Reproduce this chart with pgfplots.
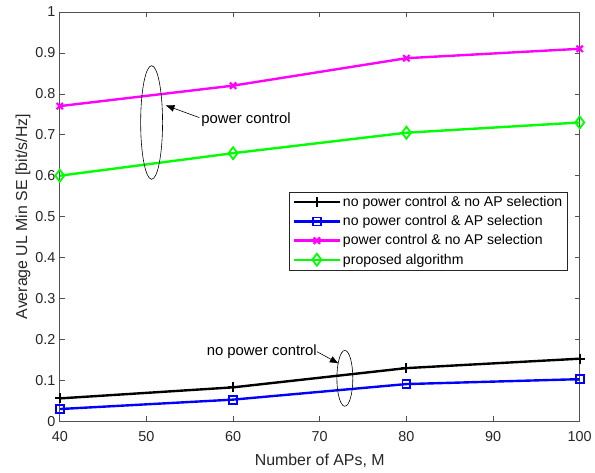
\documentclass[border=0pt]{standalone}
\usepackage{pgfplots}
\pgfplotsset{compat=1.18}
\usetikzlibrary{arrows.meta}
\usepackage{fontspec}
\setmainfont{Liberation Sans}
\definecolor{axgray}{RGB}{38,38,38}
\definecolor{mblue}{RGB}{0,0,255}
\definecolor{mmag}{RGB}{255,0,255}
\definecolor{mgreen}{RGB}{0,255,0}
\begin{document}
\begin{tikzpicture}
\begin{axis}[
  scale only axis,
  width=522bp, height=411bp,
  xmin=40, xmax=100, ymin=0, ymax=1,
  xtick={40,50,...,100},
  ytick={0,0.1,...,1},
  yticklabels={0,0.1,0.2,0.3,0.4,0.5,0.6,0.7,0.8,0.9,1},
  tick align=inside,
  tick pos=both,
  axis line style={axgray!80, line width=0.6bp},
  every tick/.style={axgray!80, line width=0.6bp},
  major tick length=5bp,
  tick label style={font=\fontsize{14.5}{16}\selectfont, text=axgray},
  /pgf/number format/assume math mode=true,
  xticklabel style={yshift=-7bp},
  yticklabel style={xshift=-1bp},
  xlabel={Number of APs, M},
  ylabel={Average UL Min SE [bit/s/Hz]},
  label style={font=\fontsize{16}{18}\selectfont, text=axgray},
  xlabel style={yshift=-5bp},
  ylabel style={yshift=-2bp},
  legend style={at={(axis cs:98.6,0.561)}, anchor=north east, font=\fontsize{14.2}{16}\selectfont,
    draw=axgray, line width=0.6bp, row sep=3.5bp, inner xsep=3bp, inner ysep=2.5bp, cells={anchor=west}},
  legend cell align=left,
  legend image code/.code={\draw[mark repeat=2,mark phase=2,#1] plot coordinates {(0bp,0bp) (23bp,0bp) (46bp,0bp)};},
]
\addplot[black, line width=2.4bp, mark=+, mark size=5bp, mark options={line width=2bp}] coordinates {(40,0.056) (60,0.083) (80,0.130) (100,0.153)};
\addlegendentry{no power control \& no AP selection}
\addplot[mblue, line width=2.4bp, mark=square, mark size=4bp, mark options={line width=1.8bp}] coordinates {(40,0.030) (60,0.053) (80,0.091) (100,0.103)};
\addlegendentry{no power control \& AP selection}
\addplot[mmag, line width=2.4bp, mark=x, mark size=4.5bp, mark options={line width=2.2bp}] coordinates {(40,0.770) (60,0.820) (80,0.887) (100,0.910)};
\addlegendentry{power control \& no AP selection}
\addplot[mgreen, line width=2.4bp, mark=diamond, mark size=6bp, mark options={line width=1.8bp}] coordinates {(40,0.600) (60,0.655) (80,0.705) (100,0.730)};
\addlegendentry{proposed algorithm}
\draw[black, line width=0.6bp] (axis cs:50.6,0.73) ellipse [x radius=11bp, y radius=57bp];
\draw[black, line width=0.6bp] (axis cs:72.9,0.105) ellipse [x radius=8bp, y radius=28bp];
\draw[-{Latex[length=9bp,width=7bp]}, line width=0.6bp] (axis cs:56.1,0.742) -- (axis cs:52.2,0.772);
\node[anchor=west, font=\fontsize{15}{17}\selectfont, inner sep=1bp] at (axis cs:56.2,0.737) {power control};
\draw[-{Latex[length=9bp,width=7bp]}, line width=0.6bp] (axis cs:69.7,0.170) -- (axis cs:72.2,0.141);
\node[anchor=east, font=\fontsize{15}{17}\selectfont, inner sep=1bp] at (axis cs:69.8,0.171) {no power control};
\end{axis}
\path ([shift={(-60bp,-51bp)}]current axis.south west) rectangle ([shift={(13bp,12bp)}]current axis.north east);
\end{tikzpicture}
\end{document}
